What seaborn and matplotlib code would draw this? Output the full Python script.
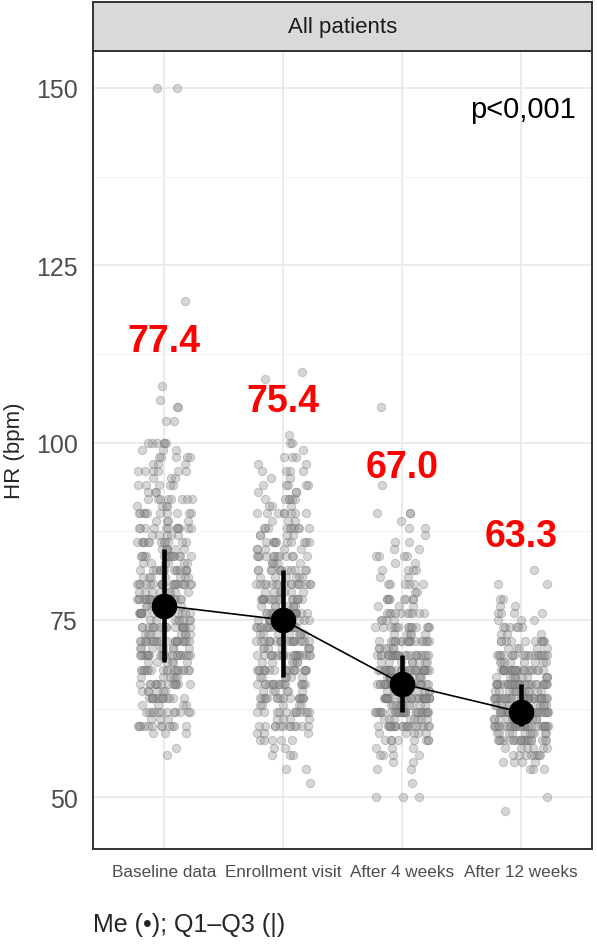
import numpy as np
import pandas as pd
import matplotlib
matplotlib.use('Agg')
import matplotlib.pyplot as plt
import seaborn as sns

VISITS = ['Baseline data', 'Enrollment visit', 'After 4 weeks', 'After 12 weeks']

# HR values (bpm) and how many patients had each value
baseline_hr = [56, 57, 59, 60, 61, 62, 63, 64, 65, 66, 67, 68, 69, 70, 71, 72, 73, 74, 75, 76,
               77, 78, 79, 80, 81, 82, 83, 84, 85, 86, 87, 88, 89, 90, 91, 92, 93, 94, 95, 96,
               97, 98, 99, 100, 103, 105, 106, 108, 120, 150]
baseline_n = [1, 1, 3, 12, 3, 12, 4, 14, 6, 14, 6, 18, 6, 22, 8, 22, 8, 18, 8, 18,
              10, 22, 8, 20, 7, 14, 6, 14, 6, 12, 5, 12, 4, 10, 4, 8, 3, 5, 3, 6,
              3, 5, 3, 6, 2, 2, 1, 1, 1, 2]

enroll_hr = [52, 54, 56, 57, 58, 59, 60, 61, 62, 63, 64, 65, 66, 67, 68, 69, 70, 71, 72, 73,
             74, 75, 76, 77, 78, 79, 80, 81, 82, 83, 84, 85, 86, 87, 88, 89, 90, 91, 92, 93,
             94, 95, 96, 97, 98, 99, 100, 101, 109, 110]
enroll_n = [1, 2, 3, 2, 5, 3, 12, 4, 12, 5, 16, 6, 16, 6, 18, 6, 20, 7, 20, 8,
            18, 8, 18, 7, 16, 7, 16, 6, 12, 5, 12, 5, 10, 4, 10, 3, 8, 3, 6, 3,
            5, 2, 4, 2, 3, 1, 2, 1, 1, 1]

week4_hr = [50, 52, 54, 55, 56, 57, 58, 59, 60, 61, 62, 63, 64, 65, 66, 67, 68, 69, 70, 71,
            72, 73, 74, 75, 76, 77, 78, 79, 80, 81, 82, 83, 84, 85, 86, 87, 88, 89, 90, 94, 105]
week4_n = [3, 1, 2, 2, 4, 3, 8, 5, 20, 8, 28, 10, 30, 10, 30, 10, 28, 8, 24, 6,
           18, 5, 14, 4, 10, 3, 8, 2, 6, 2, 4, 2, 4, 2, 2, 1, 2, 1, 3, 1, 1]

week12_hr = [48, 50, 54, 55, 56, 57, 58, 59, 60, 61, 62, 63, 64, 65, 66, 67, 68, 69, 70, 71,
             72, 73, 74, 75, 76, 77, 78, 80, 82]
week12_n = [1, 1, 3, 4, 8, 6, 20, 10, 30, 14, 32, 12, 30, 12, 28, 10, 24, 8, 18, 5,
            10, 3, 6, 3, 4, 2, 2, 2, 1]

# medians and quartiles
hr_median = [77, 75, 66, 62]
hr_q1 = [69, 67, 62, 60]
hr_q3 = [85, 82, 70, 66]

# red mean labels
mean_labels = ['77.4', '75.4', '67.0', '63.3']
label_y = [114.3, 105.9, 96.5, 86.8]

frames = []
for visit, hr, n in zip(VISITS, [baseline_hr, enroll_hr, week4_hr, week12_hr],
                        [baseline_n, enroll_n, week4_n, week12_n]):
    frames.append(pd.DataFrame({'Visit': visit, 'HR': np.repeat(hr, n)}))
points = pd.concat(frames, ignore_index=True)
summary = pd.DataFrame({'Visit': VISITS, 'Median': hr_median})

sns.set_style('white')
plt.rcParams['font.family'] = ['Liberation Sans', 'DejaVu Sans']

fig = plt.figure(figsize=(5.97, 9.45), dpi=100)
ax = fig.add_axes([93 / 597, 95 / 945, 499 / 597, 798 / 945])

np.random.seed(3)
sns.stripplot(data=points, x='Visit', y='HR', order=VISITS, jitter=0.23, color='#8c8c8c',
              alpha=0.35, size=6, linewidth=0.7, edgecolor='#6e6e6e', ax=ax, zorder=2)
ax.vlines(range(len(VISITS)), hr_q1, hr_q3, color='black', lw=3.3, zorder=4)
sns.pointplot(data=summary, x='Visit', y='Median', order=VISITS, color='black',
              markersize=17.5, linewidth=1.2, ax=ax, zorder=5)

for i, (txt, y) in enumerate(zip(mean_labels, label_y)):
    ax.text(i, y, txt, color='red', fontsize=27, fontweight='bold', ha='center', va='center')
ax.text(3.46, 147, 'p<0,001', fontsize=21, color='black', ha='right', va='center')

ax.set_xlim(-0.6, 3.6)
ax.set_ylim(42.7, 155.2)
ax.set_yticks([50, 75, 100, 125, 150])
ax.set_yticks([62.5, 87.5, 112.5, 137.5], minor=True)
ax.grid(True, which='major', color='#EBEBEB', lw=1.4, zorder=0)
ax.grid(True, which='minor', axis='y', color='#F3F3F3', lw=1.0, zorder=0)
ax.set_axisbelow(True)
ax.tick_params(which='major', length=7, width=1.2, color='#333333', pad=4)
ax.tick_params(which='minor', length=0)
ax.tick_params(axis='y', labelsize=18, labelcolor='#4D4D4D')
ax.tick_params(axis='x', labelsize=12.3, labelcolor='#4D4D4D')
ax.set_xlabel('')
ax.set_ylabel('')
for s in ax.spines.values():
    s.set_color('#333333')
    s.set_linewidth(1.4)

# facet strip
strip = fig.add_axes([93 / 597, 893 / 945, 499 / 597, 49 / 945])
strip.set_facecolor('#D9D9D9')
strip.set_xticks([])
strip.set_yticks([])
for s in strip.spines.values():
    s.set_color('#333333')
    s.set_linewidth(1.4)
strip.text(0.5, 0.5, 'All patients', fontsize=16, color='#1A1A1A', ha='center', va='center',
           transform=strip.transAxes)

fig.text(15 / 597, 1 - 451 / 945, 'HR (bpm)', rotation=90, fontsize=16, ha='center', va='center')
fig.text(93 / 597, 1 - 925 / 945, 'Me (\u2022); Q1\u2013Q3 (|)', fontsize=18, ha='left', va='center')

fig.savefig('out.png', dpi=100)
